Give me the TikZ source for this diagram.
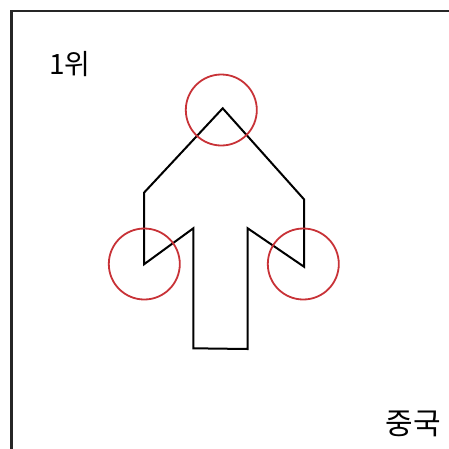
\documentclass[tikz,border=0pt]{standalone}
\usepackage{fontspec}
\newfontfamily\kr{Noto Sans CJK KR}
\definecolor{ringred}{RGB}{200,50,55}
\tikzset{
  ring/.style={draw=ringred,line width=1.8pt},
  label/.style={font=\kr,inner sep=0pt}
}
\begin{document}
\begin{tikzpicture}[x=1pt,y=-1pt]
            \useasboundingbox (0,0) rectangle (449,448);
            \draw[line width=2.4pt,black!85] (11.5,470) |- (470,11);
            \draw[line width=2pt,line join=miter] (222.7,108.3) -- (144,192.7) -- (144,264.3)
                -- (193.3,228.3) -- (193.3,348.3) -- (247.7,349) -- (247.7,228.3)
                -- (304,266.7) -- (304,199.3) -- cycle;
            \draw[ring] (221.3,110) circle (35.5);
            \draw[ring] (144.3,264) circle (35.5);
            \draw[ring] (303.3,264) circle (35.5);
            \node[label,font=\kr\fontsize{28}{28}\selectfont] (rank) at (70,64) {1위};
            \node[label,font=\kr\fontsize{30}{30}\selectfont] (country) at (413,424) {중국};
        \end{tikzpicture}
\end{document}
